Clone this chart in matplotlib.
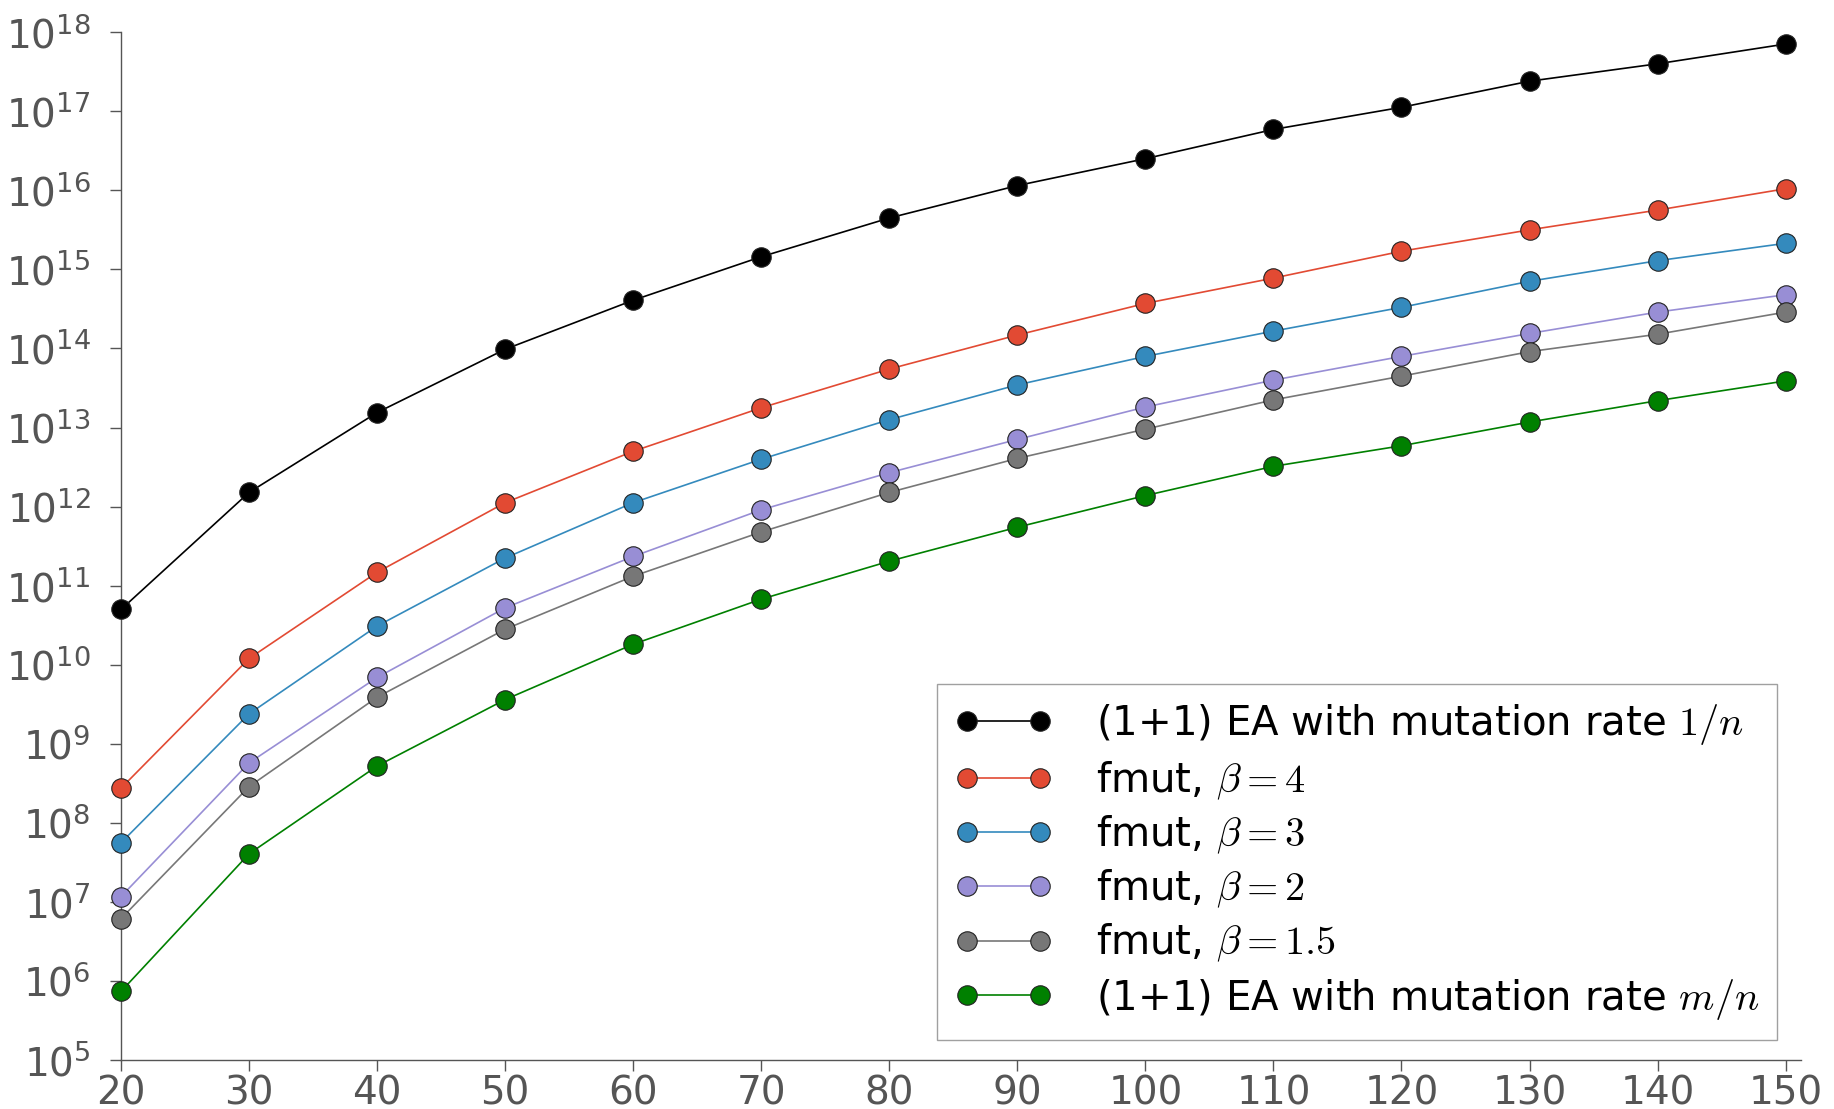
import numpy as np
import matplotlib
matplotlib.use('Agg')
import matplotlib.pyplot as plt
from matplotlib.ticker import LogLocator, NullLocator

plt.rcParams['mathtext.fontset'] = 'cm'
plt.rcParams['font.family'] = 'DejaVu Sans'

n = [20, 30, 40, 50, 60, 70, 80, 90, 100, 110, 120, 130, 140, 150]

# log10 of the values
ea_1n = [10.70, 12.18, 13.19, 13.99, 14.61, 15.16, 15.65, 16.06, 16.40, 16.77, 17.05, 17.38, 17.60, 17.85]
fmut_4 = [8.44, 10.08, 11.17, 12.05, 12.70, 13.25, 13.74, 14.17, 14.57, 14.89, 15.23, 15.50, 15.75, 16.02]
fmut_3 = [7.75, 9.38, 10.49, 11.35, 12.05, 12.60, 13.10, 13.54, 13.90, 14.22, 14.52, 14.85, 15.11, 15.33]
fmut_2 = [7.07, 8.76, 9.84, 10.72, 11.37, 11.96, 12.43, 12.85, 13.26, 13.60, 13.90, 14.19, 14.46, 14.68]
fmut_15 = [6.79, 8.46, 9.59, 10.45, 11.12, 11.68, 12.18, 12.61, 12.98, 13.35, 13.65, 13.96, 14.18, 14.46]
ea_mn = [5.87, 7.61, 8.72, 9.56, 10.26, 10.83, 11.31, 11.74, 12.14, 12.51, 12.77, 13.07, 13.34, 13.59]

series = [
    (ea_1n, 'black', r'(1+1) EA with mutation rate $1/n$'),
    (fmut_4, '#E24A33', r'fmut, $\beta = 4$'),
    (fmut_3, '#348ABD', r'fmut, $\beta = 3$'),
    (fmut_2, '#988ED5', r'fmut, $\beta = 2$'),
    (fmut_15, '#777777', r'fmut, $\beta = 1.5$'),
    (ea_mn, 'green', r'(1+1) EA with mutation rate $m/n$'),
]

fig = plt.figure(figsize=(18.34, 11.09), dpi=100)
ax = fig.add_axes([0.066, 0.044, 0.916, 0.927])

for vals, color, label in series:
    ax.plot(n, 10 ** np.array(vals), '-o', color=color, markerfacecolor=color,
            markeredgecolor='#222222', markeredgewidth=0.8, markersize=14,
            linewidth=1.2, label=label, clip_on=False, zorder=3)

ax.set_yscale('log')
ax.set_ylim(1e5, 1e18)
ax.set_xlim(20, 151.2)
ax.set_xticks(n)
ax.yaxis.set_major_locator(LogLocator(base=10, numticks=20))
ax.yaxis.set_minor_locator(NullLocator())

for side in ['top', 'right']:
    ax.spines[side].set_visible(False)
for side in ['left', 'bottom']:
    ax.spines[side].set_color('#555555')
    ax.spines[side].set_linewidth(1.0)
ax.tick_params(axis='both', direction='out', length=8, width=1, color='#555555',
               labelcolor='#555555', labelsize=28)
ax.tick_params(axis='y', pad=14)
ax.tick_params(axis='x', pad=2)

leg = ax.legend(loc='lower right', bbox_to_anchor=(0.986, 0.02), fontsize=29,
                numpoints=2, handlelength=2.4, fancybox=False, frameon=True,
                borderpad=0.45, labelspacing=0.3, handletextpad=1.1,
                borderaxespad=0)
leg.get_frame().set_edgecolor('#888888')
leg.get_frame().set_linewidth(1.0)

fig.savefig('out.png', dpi=100)
